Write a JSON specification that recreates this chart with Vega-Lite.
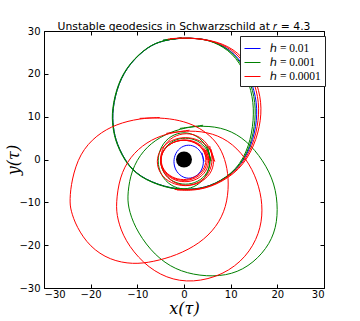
{
  "$schema": "https://vega.github.io/schema/vega-lite/v6.json",
  "width": 280,
  "height": 257,
  "autosize": {"type": "none"},
  "padding": {"left": 44, "top": 31, "right": 36, "bottom": 33},
  "background": "white",
  "title": {"text": "Unstable geodesics in Schwarzschild at 𝑟 = 4.3", "font": "DejaVu Sans", "fontSize": 10.8, "fontWeight": "normal", "color": "black", "offset": -6, "anchor": "middle"},
  "config": {
    "view": {"stroke": "black", "strokeWidth": 1},
    "axis": {"domain": false, "grid": false, "tickColor": "black", "tickSize": -4, "tickWidth": 1, "labelColor": "black", "labelFont": "DejaVu Sans", "labelFontSize": 10, "titleFont": "DejaVu Serif", "titleFontStyle": "italic", "titleFontWeight": "normal", "titleFontSize": 16, "titleColor": "black"}
  },
  "datasets": {
    "orbits": [
      {"h":"ℎ = 0.01","s":"bA","i":1,"x":-0.55,"y":28.4},{"h":"ℎ = 0.01","s":"bA","i":2,"x":-4.5,"y":27.8},{"h":"ℎ = 0.01","s":"bA","i":3,"x":-7.7,"y":26.4},{"h":"ℎ = 0.01","s":"bA","i":4,"x":-11.6,"y":22.5},{"h":"ℎ = 0.01","s":"bA","i":5,"x":-14.1,"y":17.8},{"h":"ℎ = 0.01","s":"bA","i":6,"x":-15.4,"y":11.6},{"h":"ℎ = 0.01","s":"bA","i":7,"x":-15.2,"y":7.5},{"h":"ℎ = 0.01","s":"bA","i":8,"x":-14.5,"y":3.8},{"h":"ℎ = 0.01","s":"bA","i":9,"x":-12.0,"y":-1.6},{"h":"ℎ = 0.01","s":"bA","i":10,"x":-8.4,"y":-4.75},{"h":"ℎ = 0.01","s":"bA","i":11,"x":-2.7,"y":-6.9},{"h":"ℎ = 0.01","s":"bA","i":12,"x":2.3,"y":-7.1},{"h":"ℎ = 0.01","s":"bA","i":13,"x":6.6,"y":-5.9},{"h":"ℎ = 0.01","s":"bA","i":14,"x":11.6,"y":-2.4},{"h":"ℎ = 0.01","s":"bA","i":15,"x":14.5,"y":3.05},{"h":"ℎ = 0.01","s":"bA","i":16,"x":15.75,"y":9.3},{"h":"ℎ = 0.01","s":"bA","i":17,"x":15.5,"y":14.7},{"h":"ℎ = 0.01","s":"bA","i":18,"x":13.8,"y":20.2},{"h":"ℎ = 0.01","s":"bA","i":19,"x":11.0,"y":24.9},{"h":"ℎ = 0.01","s":"bA","i":20,"x":6.6,"y":27.6},{"h":"ℎ = 0.01","s":"bA","i":21,"x":3.0,"y":28.3},{"h":"ℎ = 0.01","s":"bA","i":22,"x":-0.55,"y":28.4},{"h":"ℎ = 0.01","s":"bA","i":23,"x":-4.5,"y":27.8},

      {"h":"ℎ = 0.01","s":"bR","i":1,"x":4.3,"y":-0.5},{"h":"ℎ = 0.01","s":"bR","i":2,"x":3.85,"y":1.55},{"h":"ℎ = 0.01","s":"bR","i":3,"x":2.6,"y":3.0},{"h":"ℎ = 0.01","s":"bR","i":4,"x":1.0,"y":3.5},{"h":"ℎ = 0.01","s":"bR","i":5,"x":-0.6,"y":3.0},{"h":"ℎ = 0.01","s":"bR","i":6,"x":-1.85,"y":1.55},{"h":"ℎ = 0.01","s":"bR","i":7,"x":-2.3,"y":-0.5},{"h":"ℎ = 0.01","s":"bR","i":8,"x":-1.85,"y":-2.55},{"h":"ℎ = 0.01","s":"bR","i":9,"x":-0.6,"y":-4.0},{"h":"ℎ = 0.01","s":"bR","i":10,"x":1.0,"y":-4.55},{"h":"ℎ = 0.01","s":"bR","i":11,"x":2.6,"y":-4.0},{"h":"ℎ = 0.01","s":"bR","i":12,"x":3.85,"y":-2.55},{"h":"ℎ = 0.01","s":"bR","i":13,"x":4.3,"y":-0.5},{"h":"ℎ = 0.01","s":"bR","i":14,"x":3.85,"y":1.55},

      {"h":"ℎ = 0.001","s":"gA1","i":1,"x":-0.55,"y":28.4},{"h":"ℎ = 0.001","s":"gA1","i":2,"x":-4.5,"y":27.8},{"h":"ℎ = 0.001","s":"gA1","i":3,"x":-7.7,"y":26.4},{"h":"ℎ = 0.001","s":"gA1","i":4,"x":-11.6,"y":22.5},{"h":"ℎ = 0.001","s":"gA1","i":5,"x":-14.1,"y":17.8},{"h":"ℎ = 0.001","s":"gA1","i":6,"x":-15.4,"y":11.6},{"h":"ℎ = 0.001","s":"gA1","i":7,"x":-15.2,"y":7.5},{"h":"ℎ = 0.001","s":"gA1","i":8,"x":-14.5,"y":3.8},{"h":"ℎ = 0.001","s":"gA1","i":9,"x":-12.0,"y":-1.6},{"h":"ℎ = 0.001","s":"gA1","i":10,"x":-8.4,"y":-4.75},{"h":"ℎ = 0.001","s":"gA1","i":11,"x":-2.7,"y":-6.9},{"h":"ℎ = 0.001","s":"gA1","i":12,"x":2.3,"y":-7.1},{"h":"ℎ = 0.001","s":"gA1","i":13,"x":6.6,"y":-5.9},{"h":"ℎ = 0.001","s":"gA1","i":14,"x":11.4,"y":-2.4},{"h":"ℎ = 0.001","s":"gA1","i":15,"x":14.0,"y":3.05},{"h":"ℎ = 0.001","s":"gA1","i":16,"x":15.0,"y":9.3},{"h":"ℎ = 0.001","s":"gA1","i":17,"x":14.8,"y":14.7},{"h":"ℎ = 0.001","s":"gA1","i":18,"x":13.2,"y":20.2},{"h":"ℎ = 0.001","s":"gA1","i":19,"x":10.5,"y":24.9},{"h":"ℎ = 0.001","s":"gA1","i":20,"x":6.3,"y":27.6},{"h":"ℎ = 0.001","s":"gA1","i":21,"x":2.9,"y":28.3},{"h":"ℎ = 0.001","s":"gA1","i":22,"x":-0.55,"y":28.4},{"h":"ℎ = 0.001","s":"gA1","i":23,"x":-4.5,"y":27.8},

      {"h":"ℎ = 0.001","s":"gA2","i":1,"x":-0.5,"y":28.4},{"h":"ℎ = 0.001","s":"gA2","i":2,"x":-4.5,"y":27.85},{"h":"ℎ = 0.001","s":"gA2","i":3,"x":-7.8,"y":26.4},{"h":"ℎ = 0.001","s":"gA2","i":4,"x":-11.7,"y":22.5},{"h":"ℎ = 0.001","s":"gA2","i":5,"x":-14.2,"y":17.8},{"h":"ℎ = 0.001","s":"gA2","i":6,"x":-15.5,"y":11.6},{"h":"ℎ = 0.001","s":"gA2","i":7,"x":-15.3,"y":7.5},{"h":"ℎ = 0.001","s":"gA2","i":8,"x":-14.6,"y":3.8},{"h":"ℎ = 0.001","s":"gA2","i":9,"x":-12.1,"y":-1.65},{"h":"ℎ = 0.001","s":"gA2","i":10,"x":-8.4,"y":-4.85},{"h":"ℎ = 0.001","s":"gA2","i":11,"x":-2.7,"y":-7.0},{"h":"ℎ = 0.001","s":"gA2","i":12,"x":2.3,"y":-7.2},{"h":"ℎ = 0.001","s":"gA2","i":13,"x":6.6,"y":-6.0},{"h":"ℎ = 0.001","s":"gA2","i":14,"x":11.5,"y":-2.45},{"h":"ℎ = 0.001","s":"gA2","i":15,"x":14.3,"y":3.05},{"h":"ℎ = 0.001","s":"gA2","i":16,"x":15.4,"y":9.3},{"h":"ℎ = 0.001","s":"gA2","i":17,"x":15.2,"y":14.7},{"h":"ℎ = 0.001","s":"gA2","i":18,"x":13.5,"y":20.2},{"h":"ℎ = 0.001","s":"gA2","i":19,"x":10.8,"y":24.9},{"h":"ℎ = 0.001","s":"gA2","i":20,"x":6.5,"y":27.6},{"h":"ℎ = 0.001","s":"gA2","i":21,"x":3.0,"y":28.3},{"h":"ℎ = 0.001","s":"gA2","i":22,"x":-0.5,"y":28.4},{"h":"ℎ = 0.001","s":"gA2","i":23,"x":-4.5,"y":27.85},

      {"h":"ℎ = 0.001","s":"gR1","i":1,"x":5.8,"y":-0.3},{"h":"ℎ = 0.001","s":"gR1","i":2,"x":5.0,"y":3.1},{"h":"ℎ = 0.001","s":"gR1","i":3,"x":2.9,"y":5.6},{"h":"ℎ = 0.001","s":"gR1","i":4,"x":0.0,"y":6.55},{"h":"ℎ = 0.001","s":"gR1","i":5,"x":-2.9,"y":5.6},{"h":"ℎ = 0.001","s":"gR1","i":6,"x":-5.0,"y":3.1},{"h":"ℎ = 0.001","s":"gR1","i":7,"x":-5.8,"y":-0.3},{"h":"ℎ = 0.001","s":"gR1","i":8,"x":-5.0,"y":-3.7},{"h":"ℎ = 0.001","s":"gR1","i":9,"x":-2.9,"y":-6.2},{"h":"ℎ = 0.001","s":"gR1","i":10,"x":0.0,"y":-7.15},{"h":"ℎ = 0.001","s":"gR1","i":11,"x":2.9,"y":-6.2},{"h":"ℎ = 0.001","s":"gR1","i":12,"x":5.0,"y":-3.7},{"h":"ℎ = 0.001","s":"gR1","i":13,"x":5.8,"y":-0.3},{"h":"ℎ = 0.001","s":"gR1","i":14,"x":5.0,"y":3.1},

      {"h":"ℎ = 0.001","s":"gR2","i":1,"x":5.8,"y":-0.4},{"h":"ℎ = 0.001","s":"gR2","i":2,"x":5.1,"y":2.4},{"h":"ℎ = 0.001","s":"gR2","i":3,"x":3.05,"y":4.5},{"h":"ℎ = 0.001","s":"gR2","i":4,"x":0.3,"y":5.2},{"h":"ℎ = 0.001","s":"gR2","i":5,"x":-2.45,"y":4.5},{"h":"ℎ = 0.001","s":"gR2","i":6,"x":-4.5,"y":2.4},{"h":"ℎ = 0.001","s":"gR2","i":7,"x":-5.2,"y":-0.4},{"h":"ℎ = 0.001","s":"gR2","i":8,"x":-4.5,"y":-3.2},{"h":"ℎ = 0.001","s":"gR2","i":9,"x":-2.45,"y":-5.3},{"h":"ℎ = 0.001","s":"gR2","i":10,"x":0.3,"y":-6.0},{"h":"ℎ = 0.001","s":"gR2","i":11,"x":3.05,"y":-5.3},{"h":"ℎ = 0.001","s":"gR2","i":12,"x":5.1,"y":-3.2},{"h":"ℎ = 0.001","s":"gR2","i":13,"x":5.8,"y":-0.4},{"h":"ℎ = 0.001","s":"gR2","i":14,"x":5.1,"y":2.4},

      {"h":"ℎ = 0.001","s":"gB","i":1,"x":4.1,"y":8.0},{"h":"ℎ = 0.001","s":"gB","i":2,"x":-0.9,"y":7.25},{"h":"ℎ = 0.001","s":"gB","i":3,"x":-5.2,"y":5.3},{"h":"ℎ = 0.001","s":"gB","i":4,"x":-8.8,"y":2.2},{"h":"ℎ = 0.001","s":"gB","i":5,"x":-11.3,"y":-2.5},{"h":"ℎ = 0.001","s":"gB","i":6,"x":-12.1,"y":-7.9},{"h":"ℎ = 0.001","s":"gB","i":7,"x":-12.0,"y":-11.1},{"h":"ℎ = 0.001","s":"gB","i":8,"x":-10.6,"y":-15.75},{"h":"ℎ = 0.001","s":"gB","i":9,"x":-7.3,"y":-21.2},{"h":"ℎ = 0.001","s":"gB","i":10,"x":-3.05,"y":-25.1},{"h":"ℎ = 0.001","s":"gB","i":11,"x":1.9,"y":-27.0},{"h":"ℎ = 0.001","s":"gB","i":12,"x":7.7,"y":-27.4},{"h":"ℎ = 0.001","s":"gB","i":13,"x":12.7,"y":-25.9},{"h":"ℎ = 0.001","s":"gB","i":14,"x":16.95,"y":-22.0},{"h":"ℎ = 0.001","s":"gB","i":15,"x":19.5,"y":-17.3},{"h":"ℎ = 0.001","s":"gB","i":16,"x":20.2,"y":-11.8},{"h":"ℎ = 0.001","s":"gB","i":17,"x":19.5,"y":-5.6},{"h":"ℎ = 0.001","s":"gB","i":18,"x":16.95,"y":-0.15},{"h":"ℎ = 0.001","s":"gB","i":19,"x":13.4,"y":4.5},{"h":"ℎ = 0.001","s":"gB","i":20,"x":9.1,"y":7.25},{"h":"ℎ = 0.001","s":"gB","i":21,"x":4.1,"y":8.0},{"h":"ℎ = 0.001","s":"gB","i":22,"x":-0.9,"y":7.25},

      {"h":"ℎ = 0.0001","s":"rA1","i":1,"x":-3.5,"y":28.1},{"h":"ℎ = 0.0001","s":"rA1","i":2,"x":0.9,"y":28.5},{"h":"ℎ = 0.0001","s":"rA1","i":3,"x":6.8,"y":27.7},{"h":"ℎ = 0.0001","s":"rA1","i":4,"x":11.4,"y":25.0},{"h":"ℎ = 0.0001","s":"rA1","i":5,"x":14.3,"y":20.3},{"h":"ℎ = 0.0001","s":"rA1","i":6,"x":16.0,"y":14.7},{"h":"ℎ = 0.0001","s":"rA1","i":7,"x":16.1,"y":9.3},{"h":"ℎ = 0.0001","s":"rA1","i":8,"x":14.8,"y":3.05},{"h":"ℎ = 0.0001","s":"rA1","i":9,"x":11.8,"y":-2.4},{"h":"ℎ = 0.0001","s":"rA1","i":10,"x":6.7,"y":-6.0},{"h":"ℎ = 0.0001","s":"rA1","i":11,"x":2.3,"y":-7.2},{"h":"ℎ = 0.0001","s":"rA1","i":12,"x":-2.0,"y":-7.0},

      {"h":"ℎ = 0.0001","s":"rA2","i":1,"x":-3.0,"y":28.2},{"h":"ℎ = 0.0001","s":"rA2","i":2,"x":1.2,"y":28.5},{"h":"ℎ = 0.0001","s":"rA2","i":3,"x":7.1,"y":27.7},{"h":"ℎ = 0.0001","s":"rA2","i":4,"x":11.8,"y":25.1},{"h":"ℎ = 0.0001","s":"rA2","i":5,"x":14.8,"y":20.4},{"h":"ℎ = 0.0001","s":"rA2","i":6,"x":16.5,"y":14.7},{"h":"ℎ = 0.0001","s":"rA2","i":7,"x":16.6,"y":9.3},{"h":"ℎ = 0.0001","s":"rA2","i":8,"x":15.1,"y":3.05},{"h":"ℎ = 0.0001","s":"rA2","i":9,"x":12.0,"y":-2.5},{"h":"ℎ = 0.0001","s":"rA2","i":10,"x":6.8,"y":-6.1},{"h":"ℎ = 0.0001","s":"rA2","i":11,"x":2.3,"y":-7.3},{"h":"ℎ = 0.0001","s":"rA2","i":12,"x":-1.5,"y":-7.1},

      {"h":"ℎ = 0.0001","s":"rR1","i":1,"x":5.2,"y":-0.2},{"h":"ℎ = 0.0001","s":"rR1","i":2,"x":4.5,"y":2.25},{"h":"ℎ = 0.0001","s":"rR1","i":3,"x":2.6,"y":4.05},{"h":"ℎ = 0.0001","s":"rR1","i":4,"x":0.0,"y":4.7},{"h":"ℎ = 0.0001","s":"rR1","i":5,"x":-2.6,"y":4.05},{"h":"ℎ = 0.0001","s":"rR1","i":6,"x":-4.5,"y":2.25},{"h":"ℎ = 0.0001","s":"rR1","i":7,"x":-5.2,"y":-0.2},{"h":"ℎ = 0.0001","s":"rR1","i":8,"x":-4.5,"y":-2.65},{"h":"ℎ = 0.0001","s":"rR1","i":9,"x":-2.6,"y":-4.45},{"h":"ℎ = 0.0001","s":"rR1","i":10,"x":0.0,"y":-5.1},{"h":"ℎ = 0.0001","s":"rR1","i":11,"x":2.6,"y":-4.45},{"h":"ℎ = 0.0001","s":"rR1","i":12,"x":4.5,"y":-2.65},{"h":"ℎ = 0.0001","s":"rR1","i":13,"x":5.2,"y":-0.2},{"h":"ℎ = 0.0001","s":"rR1","i":14,"x":4.5,"y":2.25},

      {"h":"ℎ = 0.0001","s":"rR2","i":1,"x":5.5,"y":-0.3},{"h":"ℎ = 0.0001","s":"rR2","i":2,"x":4.8,"y":2.25},{"h":"ℎ = 0.0001","s":"rR2","i":3,"x":2.85,"y":4.1},{"h":"ℎ = 0.0001","s":"rR2","i":4,"x":0.2,"y":4.8},{"h":"ℎ = 0.0001","s":"rR2","i":5,"x":-2.5,"y":4.1},{"h":"ℎ = 0.0001","s":"rR2","i":6,"x":-4.5,"y":2.25},{"h":"ℎ = 0.0001","s":"rR2","i":7,"x":-5.3,"y":-0.3},{"h":"ℎ = 0.0001","s":"rR2","i":8,"x":-4.5,"y":-2.85},{"h":"ℎ = 0.0001","s":"rR2","i":9,"x":-2.5,"y":-4.75},{"h":"ℎ = 0.0001","s":"rR2","i":10,"x":0.2,"y":-5.4},{"h":"ℎ = 0.0001","s":"rR2","i":11,"x":2.85,"y":-4.75},{"h":"ℎ = 0.0001","s":"rR2","i":12,"x":4.8,"y":-2.85},{"h":"ℎ = 0.0001","s":"rR2","i":13,"x":5.5,"y":-0.3},{"h":"ℎ = 0.0001","s":"rR2","i":14,"x":4.8,"y":2.25},

      {"h":"ℎ = 0.0001","s":"rR3","i":1,"x":4.9,"y":-0.1},{"h":"ℎ = 0.0001","s":"rR3","i":2,"x":4.25,"y":2.3},{"h":"ℎ = 0.0001","s":"rR3","i":3,"x":2.4,"y":4.05},{"h":"ℎ = 0.0001","s":"rR3","i":4,"x":-0.1,"y":4.7},{"h":"ℎ = 0.0001","s":"rR3","i":5,"x":-2.6,"y":4.05},{"h":"ℎ = 0.0001","s":"rR3","i":6,"x":-4.45,"y":2.3},{"h":"ℎ = 0.0001","s":"rR3","i":7,"x":-5.1,"y":-0.1},{"h":"ℎ = 0.0001","s":"rR3","i":8,"x":-4.45,"y":-2.5},{"h":"ℎ = 0.0001","s":"rR3","i":9,"x":-2.6,"y":-4.25},{"h":"ℎ = 0.0001","s":"rR3","i":10,"x":-0.1,"y":-4.9},{"h":"ℎ = 0.0001","s":"rR3","i":11,"x":2.4,"y":-4.25},{"h":"ℎ = 0.0001","s":"rR3","i":12,"x":4.25,"y":-2.5},{"h":"ℎ = 0.0001","s":"rR3","i":13,"x":4.9,"y":-0.1},{"h":"ℎ = 0.0001","s":"rR3","i":14,"x":4.25,"y":2.3},

      {"h":"ℎ = 0.0001","s":"rR4","i":1,"x":6.25,"y":0.0},{"h":"ℎ = 0.0001","s":"rR4","i":2,"x":5.5,"y":3.15},{"h":"ℎ = 0.0001","s":"rR4","i":3,"x":3.4,"y":5.45},{"h":"ℎ = 0.0001","s":"rR4","i":4,"x":0.5,"y":6.3},{"h":"ℎ = 0.0001","s":"rR4","i":5,"x":-2.4,"y":5.45},{"h":"ℎ = 0.0001","s":"rR4","i":6,"x":-4.5,"y":3.15},{"h":"ℎ = 0.0001","s":"rR4","i":7,"x":-5.25,"y":0.0},{"h":"ℎ = 0.0001","s":"rR4","i":8,"x":-4.5,"y":-3.15},{"h":"ℎ = 0.0001","s":"rR4","i":9,"x":-2.4,"y":-5.45},{"h":"ℎ = 0.0001","s":"rR4","i":10,"x":0.5,"y":-6.3},{"h":"ℎ = 0.0001","s":"rR4","i":11,"x":3.4,"y":-5.45},{"h":"ℎ = 0.0001","s":"rR4","i":12,"x":5.5,"y":-3.15},{"h":"ℎ = 0.0001","s":"rR4","i":13,"x":6.25,"y":0.0},{"h":"ℎ = 0.0001","s":"rR4","i":14,"x":5.5,"y":3.15},

      {"h":"ℎ = 0.0001","s":"rR5","i":1,"x":6.6,"y":-0.5},{"h":"ℎ = 0.0001","s":"rR5","i":2,"x":5.75,"y":2.45},{"h":"ℎ = 0.0001","s":"rR5","i":3,"x":3.45,"y":4.6},{"h":"ℎ = 0.0001","s":"rR5","i":4,"x":0.3,"y":5.35},{"h":"ℎ = 0.0001","s":"rR5","i":5,"x":-2.85,"y":4.6},{"h":"ℎ = 0.0001","s":"rR5","i":6,"x":-5.15,"y":2.45},{"h":"ℎ = 0.0001","s":"rR5","i":7,"x":-6.0,"y":-0.5},{"h":"ℎ = 0.0001","s":"rR5","i":8,"x":-5.15,"y":-3.45},{"h":"ℎ = 0.0001","s":"rR5","i":9,"x":-2.85,"y":-5.6},{"h":"ℎ = 0.0001","s":"rR5","i":10,"x":0.3,"y":-6.35},{"h":"ℎ = 0.0001","s":"rR5","i":11,"x":3.45,"y":-5.6},{"h":"ℎ = 0.0001","s":"rR5","i":12,"x":5.75,"y":-3.45},{"h":"ℎ = 0.0001","s":"rR5","i":13,"x":6.6,"y":-0.5},{"h":"ℎ = 0.0001","s":"rR5","i":14,"x":5.75,"y":2.45},

      {"h":"ℎ = 0.0001","s":"rC","i":1,"x":-5.2,"y":9.8},{"h":"ℎ = 0.0001","s":"rC","i":2,"x":-9.5,"y":9.6},{"h":"ℎ = 0.0001","s":"rC","i":3,"x":-14.5,"y":8.3},{"h":"ℎ = 0.0001","s":"rC","i":4,"x":-18.8,"y":5.7},{"h":"ℎ = 0.0001","s":"rC","i":5,"x":-22.35,"y":1.4},{"h":"ℎ = 0.0001","s":"rC","i":6,"x":-24.1,"y":-4.8},{"h":"ℎ = 0.0001","s":"rC","i":7,"x":-24.5,"y":-9.5},{"h":"ℎ = 0.0001","s":"rC","i":8,"x":-24.3,"y":-11.8},{"h":"ℎ = 0.0001","s":"rC","i":9,"x":-23.05,"y":-15.75},{"h":"ℎ = 0.0001","s":"rC","i":10,"x":-20.2,"y":-20.4},{"h":"ℎ = 0.0001","s":"rC","i":11,"x":-15.9,"y":-23.5},{"h":"ℎ = 0.0001","s":"rC","i":12,"x":-10.9,"y":-24.5},{"h":"ℎ = 0.0001","s":"rC","i":13,"x":-6.6,"y":-23.9},{"h":"ℎ = 0.0001","s":"rC","i":14,"x":-1.6,"y":-22.4},{"h":"ℎ = 0.0001","s":"rC","i":15,"x":3.4,"y":-19.6},{"h":"ℎ = 0.0001","s":"rC","i":16,"x":7.0,"y":-15.75},{"h":"ℎ = 0.0001","s":"rC","i":17,"x":9.1,"y":-11.1},{"h":"ℎ = 0.0001","s":"rC","i":18,"x":9.66,"y":-5.6},{"h":"ℎ = 0.0001","s":"rC","i":19,"x":9.1,"y":-0.9},{"h":"ℎ = 0.0001","s":"rC","i":20,"x":7.7,"y":3.0},{"h":"ℎ = 0.0001","s":"rC","i":21,"x":5.5,"y":5.7},{"h":"ℎ = 0.0001","s":"rC","i":22,"x":2.7,"y":7.8},{"h":"ℎ = 0.0001","s":"rC","i":23,"x":-0.9,"y":9.2},{"h":"ℎ = 0.0001","s":"rC","i":24,"x":-5.2,"y":9.8},{"h":"ℎ = 0.0001","s":"rC","i":25,"x":-9.5,"y":9.6},

      {"h":"ℎ = 0.0001","s":"rD","i":1,"x":1.2,"y":6.85},{"h":"ℎ = 0.0001","s":"rD","i":2,"x":-3.8,"y":6.1},{"h":"ℎ = 0.0001","s":"rD","i":3,"x":-8.05,"y":4.1},{"h":"ℎ = 0.0001","s":"rD","i":4,"x":-11.6,"y":0.6},{"h":"ℎ = 0.0001","s":"rD","i":5,"x":-13.8,"y":-4.05},{"h":"ℎ = 0.0001","s":"rD","i":6,"x":-14.6,"y":-10.3},{"h":"ℎ = 0.0001","s":"rD","i":7,"x":-14.3,"y":-13.9},{"h":"ℎ = 0.0001","s":"rD","i":8,"x":-12.7,"y":-18.9},{"h":"ℎ = 0.0001","s":"rD","i":9,"x":-8.8,"y":-24.3},{"h":"ℎ = 0.0001","s":"rD","i":10,"x":-3.8,"y":-27.8},{"h":"ℎ = 0.0001","s":"rD","i":11,"x":1.9,"y":-28.8},{"h":"ℎ = 0.0001","s":"rD","i":12,"x":8.4,"y":-27.0},{"h":"ℎ = 0.0001","s":"rD","i":13,"x":13.4,"y":-22.8},{"h":"ℎ = 0.0001","s":"rD","i":14,"x":16.2,"y":-17.3},{"h":"ℎ = 0.0001","s":"rD","i":15,"x":16.95,"y":-11.8},{"h":"ℎ = 0.0001","s":"rD","i":16,"x":16.2,"y":-6.4},{"h":"ℎ = 0.0001","s":"rD","i":17,"x":14.1,"y":-0.9},{"h":"ℎ = 0.0001","s":"rD","i":18,"x":10.5,"y":3.75},{"h":"ℎ = 0.0001","s":"rD","i":19,"x":6.2,"y":6.2},{"h":"ℎ = 0.0001","s":"rD","i":20,"x":1.2,"y":6.85},{"h":"ℎ = 0.0001","s":"rD","i":21,"x":-3.8,"y":6.1}
    ],
    "hole": [{"x": 0, "y": 0}]
  },
  "layer": [
    {
      "data": {"name": "orbits"},
      "mark": {"type": "line", "strokeWidth": 1, "interpolate": "basis", "clip": true},
      "encoding": {
        "x": {"field": "x", "type": "quantitative", "scale": {"domain": [-30, 30], "nice": false, "zero": false}, "axis": {"orient": "bottom", "values": [-30, -20, -10, 0, 10, 20, 30], "title": "x(τ)", "labelPadding": 5, "titlePadding": 1}},
        "y": {"field": "y", "type": "quantitative", "scale": {"domain": [-30, 30], "nice": false, "zero": false}, "axis": {"orient": "left", "values": [-30, -20, -10, 0, 10, 20, 30], "title": "y(τ)", "labelPadding": 8, "titlePadding": -3}},
        "color": {"field": "h", "type": "nominal", "scale": {"domain": ["ℎ = 0.01", "ℎ = 0.001", "ℎ = 0.0001"], "range": ["#0000ff", "#008000", "#ff0000"]},
          "legend": {"title": null, "orient": "none", "legendX": 196, "legendY": 5, "fillColor": "white", "strokeColor": "#222222", "padding": 4, "symbolType": "stroke", "symbolSize": 256, "symbolStrokeWidth": 1, "labelFont": "Liberation Serif", "labelFontSize": 11.5, "labelColor": "black", "rowPadding": -2, "labelOffset": 9}},
        "detail": {"field": "s", "type": "nominal"},
        "order": {"field": "i", "type": "quantitative"}
      }
    },
    {
      "data": {"name": "hole"},
      "mark": {"type": "point", "shape": "circle", "filled": true, "color": "black", "opacity": 1, "size": 255},
      "encoding": {
        "x": {"field": "x", "type": "quantitative", "axis": {"orient": "top", "values": [-30, -20, -10, 0, 10, 20, 30], "labels": false, "title": null}},
        "y": {"field": "y", "type": "quantitative", "axis": {"orient": "right", "values": [-30, -20, -10, 0, 10, 20, 30], "labels": false, "title": null}}
      }
    }
  ],
  "resolve": {"axis": {"x": "independent", "y": "independent"}}
}
